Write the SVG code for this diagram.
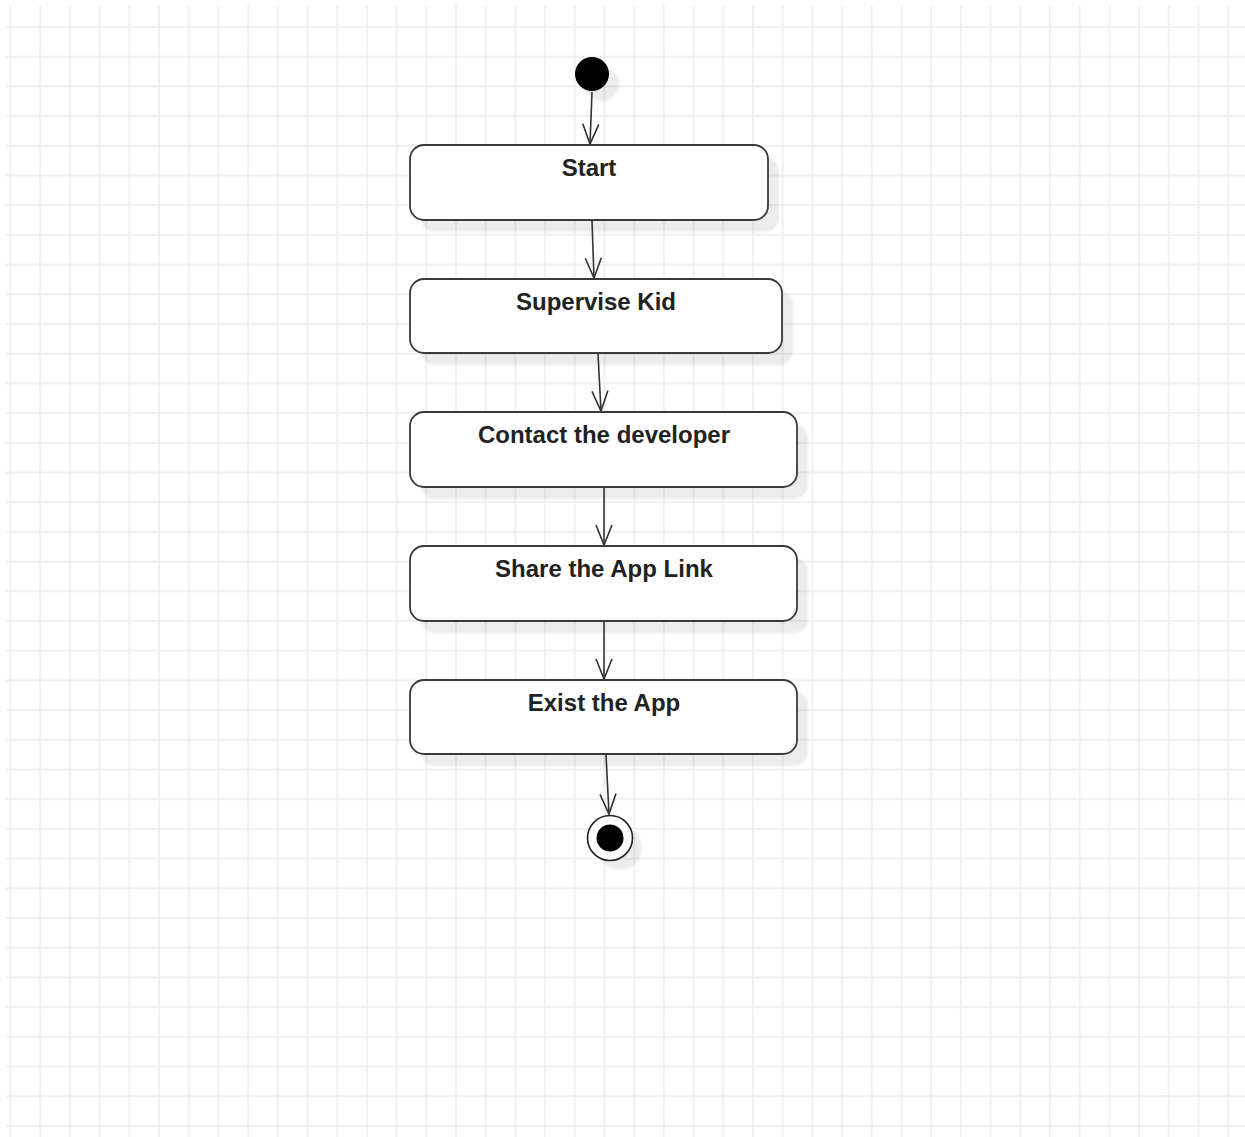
<svg xmlns="http://www.w3.org/2000/svg" width="1245" height="1137" viewBox="0 0 1245 1137">
  <defs>
    <pattern id="grid" patternUnits="userSpaceOnUse" x="-4.35" y="12.15" width="29.7" height="29.7">
      <path d="M14.85 0 V29.7 M0 14.85 H29.7" stroke="#ececec" stroke-width="1.4" fill="none"/>
    </pattern>
    <filter id="soft" x="-20%" y="-20%" width="140%" height="140%">
      <feGaussianBlur stdDeviation="1.2"/>
    </filter>
    <marker id="arrow" markerUnits="userSpaceOnUse" viewBox="-22 -10 24 20" refX="0" refY="0" markerWidth="24" markerHeight="20" orient="auto" overflow="visible">
      <path d="M-20 -8 L0 0 L-20 8" fill="none" stroke="#333" stroke-width="1.6"/>
    </marker>
    <style>
      .box { fill: #ffffff; stroke: #3a3a3a; stroke-width: 1.8; }
      .shadow { fill: #000; opacity: 0.07; filter: url(#soft); }
      .label { font-family: "Liberation Sans", Arial, sans-serif; font-size: 24px; font-weight: bold; fill: #222; text-anchor: middle; }
      .edge { fill: none; stroke: #333; stroke-width: 1.6; marker-end: url(#arrow); }
    </style>
  </defs>
  <rect width="1245" height="1137" fill="#ffffff"/>
  <rect x="6" y="6" width="1239" height="1131" fill="url(#grid)"/>

  <g id="initial">
    <circle class="shadow" cx="602" cy="84" r="17"/>
    <circle cx="592" cy="74" r="17" fill="#000"/>
  </g>

  <g id="node-start">
    <rect class="shadow" x="421" y="157" width="358" height="75" rx="14"/>
    <rect class="box" x="410" y="145" width="358" height="75" rx="14"/>
    <text class="label" x="589" y="176">Start</text>
  </g>

  <g id="node-supervise">
    <rect class="shadow" x="421" y="291" width="372" height="74" rx="14"/>
    <rect class="box" x="410" y="279" width="372" height="74" rx="14"/>
    <text class="label" x="596" y="310">Supervise Kid</text>
  </g>

  <g id="node-contact">
    <rect class="shadow" x="421" y="424" width="387" height="75" rx="14"/>
    <rect class="box" x="410" y="412" width="387" height="75" rx="14"/>
    <text class="label" x="604" y="443">Contact the developer</text>
  </g>

  <g id="node-share">
    <rect class="shadow" x="421" y="558" width="387" height="75" rx="14"/>
    <rect class="box" x="410" y="546" width="387" height="75" rx="14"/>
    <text class="label" x="604" y="577">Share the App Link</text>
  </g>

  <g id="node-exist">
    <rect class="shadow" x="421" y="692" width="387" height="74" rx="14"/>
    <rect class="box" x="410" y="680" width="387" height="74" rx="14"/>
    <text class="label" x="604" y="711">Exist the App</text>
  </g>

  <g id="final">
    <circle class="shadow" cx="620" cy="848" r="22"/>
    <circle cx="610" cy="838" r="22.5" fill="#fff" stroke="#222" stroke-width="1.6"/>
    <circle cx="610" cy="838" r="13.5" fill="#000"/>
  </g>

  <g id="connectors">
    <path class="edge" d="M592 92 L590 144"/>
    <path class="edge" d="M592 221 L594 278"/>
    <path class="edge" d="M598 354 L601 411"/>
    <path class="edge" d="M604 488 L604 545"/>
    <path class="edge" d="M604 622 L604 679"/>
    <path class="edge" d="M606 755 L609 814"/>
  </g>
</svg>
